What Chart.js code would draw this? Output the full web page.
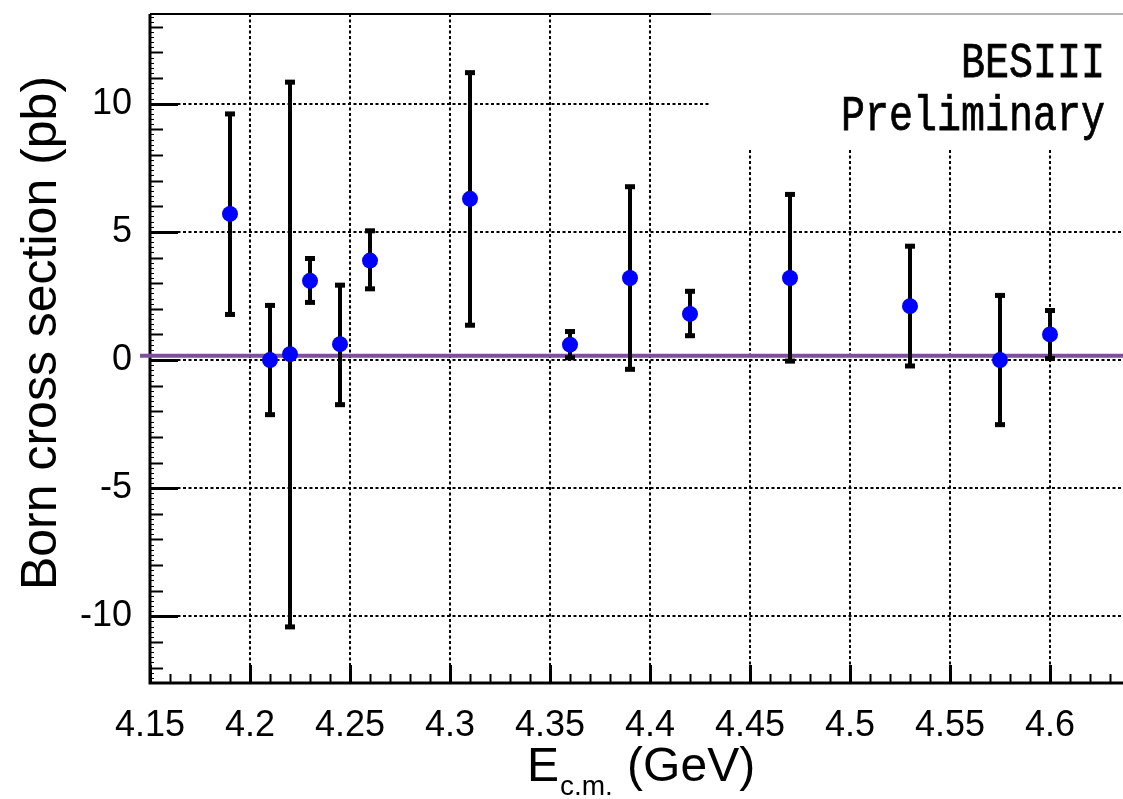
<!DOCTYPE html>
<html><head><meta charset="utf-8">
<script src="https://cdn.jsdelivr.net/npm/chart.js@4.4.1/dist/chart.umd.min.js"></script>
<style>html,body{margin:0;padding:0;background:#fff;overflow:hidden}#wrap{width:1123px;height:799px;position:relative}</style>
</head><body><div id="wrap"><canvas id="c" width="1123" height="799"></canvas></div>
<script>
// ---- data ----
const energy   = [4.19, 4.21, 4.22, 4.23, 4.245, 4.26, 4.31, 4.36, 4.39, 4.42, 4.47, 4.53, 4.575, 4.60];
const xsec     = [5.70, 0.00, 0.23, 3.09, 0.62, 3.88, 6.29, 0.60, 3.20, 1.80, 3.20, 2.10, 0.00, 1.00];
const errUpper = [9.66, 2.19, 10.90, 4.02, 2.98, 5.10, 11.27, 1.17, 6.82, 2.74, 6.52, 4.50, 2.58, 1.99];
const errLower = [1.72, -2.19, -10.47, 2.19, -1.80, 2.72, 1.30, 0.03, -0.42, 0.89, -0.10, -0.29, -2.58, 0.00];
const fitLevel = 0.17;
const xTickValues = [4.15, 4.2, 4.25, 4.3, 4.35, 4.4, 4.45, 4.5, 4.55, 4.6];
const yTickValues = [-10, -5, 0, 5, 10];
const xRange = [4.15, 4.6365];
const yRange = [-12.6, 13.5];
const yTitle = 'Born cross section (pb)';
const xTitleMain = 'E', xTitleSub = 'c.m.', xTitleUnit = ' (GeV)';
const labelLines = ['BESIII', 'Preliminary'];

Chart.defaults.font.family = "'Liberation Sans', Arial, sans-serif";
Chart.defaults.color = '#000';

const points = energy.map((e, i) => ({x: e, y: xsec[i]}));

const decor = {
  id: 'decor',
  beforeDatasetsDraw(chart) {
    const {ctx, chartArea: a, scales: {x, y}} = chart;
    const right = Math.max(a.right, 1123);
    ctx.save();
    // dotted grid
    ctx.strokeStyle = '#000';
    ctx.lineWidth = 2;
    ctx.setLineDash([3, 2.5]);
    const boxX = 711, boxY = 150;
    yTickValues.forEach(v => {
      const py = Math.round(y.getPixelForValue(v));
      const endX = py < boxY ? boxX : right;
      ctx.beginPath(); ctx.moveTo(a.left, py); ctx.lineTo(endX, py); ctx.stroke();
    });
    xTickValues.slice(1).forEach(v => {
      const px = Math.round(x.getPixelForValue(v));
      const startY = px > boxX ? boxY : a.top;
      ctx.beginPath(); ctx.moveTo(px, startY); ctx.lineTo(px, a.bottom); ctx.stroke();
    });
    ctx.setLineDash([]);
    // frame
    ctx.strokeStyle = '#000';
    ctx.lineWidth = 3;
    ctx.beginPath(); ctx.moveTo(a.left, a.top); ctx.lineTo(a.left, a.bottom); ctx.lineTo(right, a.bottom); ctx.stroke();
    ctx.lineWidth = 2;
    ctx.beginPath(); ctx.moveTo(a.left, a.top); ctx.lineTo(boxX, a.top); ctx.stroke();
    ctx.strokeStyle = '#666'; ctx.lineWidth = 1;
    ctx.beginPath(); ctx.moveTo(boxX, a.top); ctx.lineTo(right, a.top); ctx.stroke();
    // y ticks (inside)
    ctx.strokeStyle = '#000';
    const kMin = Math.ceil(yRange[0] / 0.2), kMax = Math.floor(yRange[1] / 0.2);
    for (let k = kMin; k <= kMax; k++) {
      const py = Math.round(y.getPixelForValue(k * 0.2)) + 0.5;
      let len, w;
      if (k % 25 === 0) { len = 28; w = 3; } else if (k % 5 === 0) { len = 13; w = 2; } else { len = 4; w = 1; }
      ctx.lineWidth = w;
      ctx.beginPath(); ctx.moveTo(a.left, py); ctx.lineTo(a.left + len, py); ctx.stroke();
    }
    // x ticks (inside)
    for (let k = 415; k <= Math.floor(xRange[1] * 100); k++) {
      const px = Math.round(x.getPixelForValue(k / 100)) + 0.5;
      const major = k % 5 === 0;
      ctx.lineWidth = major ? 3 : 2;
      const len = major ? 18 : 9;
      ctx.beginPath(); ctx.moveTo(px, a.bottom); ctx.lineTo(px, a.bottom - len); ctx.stroke();
    }
    // y title
    ctx.fillStyle = '#000';
    ctx.save();
    ctx.translate(56, 333);
    ctx.rotate(-Math.PI / 2);
    ctx.font = "50px 'Liberation Sans', Arial, sans-serif";
    ctx.textAlign = 'center'; ctx.textBaseline = 'alphabetic';
    ctx.fillText(yTitle, 0, 0);
    ctx.restore();
    // x title with subscript
    ctx.textAlign = 'left'; ctx.textBaseline = 'alphabetic';
    const bigF = "48px 'Liberation Sans', Arial, sans-serif";
    const subF = "28px 'Liberation Sans', Arial, sans-serif";
    ctx.font = bigF; const wE = ctx.measureText(xTitleMain).width; const wU = ctx.measureText(xTitleUnit).width;
    ctx.font = subF; const wS = ctx.measureText(xTitleSub).width;
    let tx = 641 - (wE + wS + 2 + wU) / 2;
    const base = 781;
    ctx.font = bigF; ctx.fillText(xTitleMain, tx, base); tx += wE + 1;
    ctx.font = subF; ctx.fillText(xTitleSub, tx, base + 14); tx += wS + 1;
    ctx.font = bigF; ctx.fillText(xTitleUnit, tx, base);
    // annotation box
    ctx.font = "40px 'Liberation Mono', 'Courier New', monospace";
    ctx.textAlign = 'right';
    ctx.lineWidth = 0.6; ctx.strokeStyle = '#000';
    [[labelLines[0], 77], [labelLines[1], 130]].forEach(([t, b]) => {
      ctx.save(); ctx.translate(1105, b); ctx.scale(1, 1.25); ctx.fillText(t, 0, 0); ctx.strokeText(t, 0, 0); ctx.restore();
    });
    ctx.restore();
  },
  beforeDatasetDraw(chart, args) {
    if (args.index !== 1) return;
    const {ctx, scales: {x, y}} = chart;
    ctx.save();
    ctx.strokeStyle = '#000'; ctx.fillStyle = '#000'; ctx.lineWidth = 4;
    energy.forEach((e, i) => {
      const px = x.getPixelForValue(e);
      const top = y.getPixelForValue(errUpper[i]);
      const bot = y.getPixelForValue(errLower[i]);
      ctx.beginPath(); ctx.moveTo(px, top); ctx.lineTo(px, bot); ctx.stroke();
      ctx.fillRect(px - 5, top - 1, 10, 5);
      ctx.fillRect(px - 5, bot - 4, 10, 5);
    });
    ctx.restore();
  }
};

new Chart(document.getElementById('c'), {
  type: 'scatter',
  data: {
    datasets: [
      {type: 'line', data: [{x: 4.145, y: fitLevel}, {x: xRange[1], y: fitLevel}], borderColor: '#7d4f9e',
       borderWidth: 4, pointRadius: 0, clip: false, order: 2},
      {data: points, backgroundColor: '#0000ff', borderWidth: 0, pointRadius: 8, pointHoverRadius: 8, order: 1}
    ]
  },
  options: {
    responsive: false, animation: false, devicePixelRatio: 1,
    layout: {autoPadding: false, padding: {top: 14, right: 0, left: 0, bottom: 0}},
    plugins: {legend: {display: false}, tooltip: {enabled: false}},
    scales: {
      x: {type: 'linear', min: xRange[0], max: xRange[1],
          grid: {display: false}, border: {display: false},
          afterFit: s => { s.height = 116; s.paddingLeft = 0; s.paddingRight = 0; },
          afterBuildTicks: s => { s.ticks = xTickValues.map(v => ({value: v})); },
          ticks: {font: {size: 36}, padding: 13, maxRotation: 0, autoSkip: false, callback: v => String(+v.toFixed(2))}},
      y: {type: 'linear', min: yRange[0], max: yRange[1],
          grid: {display: false}, border: {display: false},
          afterFit: s => { s.width = 150; s.paddingTop = 0; s.paddingBottom = 0; },
          afterBuildTicks: s => { s.ticks = yTickValues.map(v => ({value: v})); },
          ticks: {font: {size: 36}, padding: 10, callback: v => String(v)}}
    }
  },
  plugins: [decor]
});
</script></body></html>
